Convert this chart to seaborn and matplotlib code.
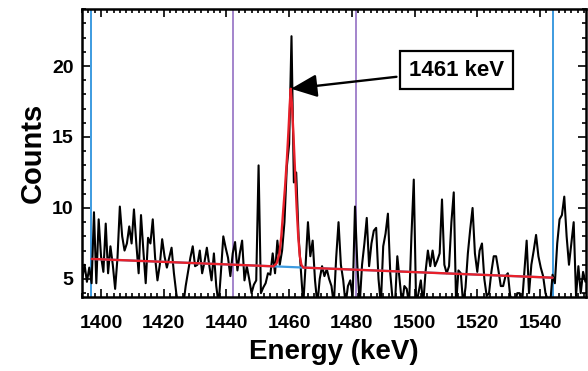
import numpy as np
import pandas as pd
import seaborn as sns
import matplotlib
matplotlib.use('Agg')
import matplotlib.pyplot as plt
from matplotlib.ticker import MultipleLocator

# spectrum (0.75 keV bins)
bin_start = 1392.5
bin_width = 0.75
counts = [5.6, 6.2, 5.0, 6.0, 4.8, 5.8, 4.7, 9.7, 4.7, 9.2,
          6.6, 5.5, 8.9, 5.4, 7.3, 6.0, 4.3, 6.5, 10.1, 8.0,
          7.0, 7.5, 8.7, 7.5, 9.9, 7.5, 5.4, 9.5, 7.0, 4.7,
          7.9, 7.5, 9.2, 6.5, 4.9, 6.0, 7.8, 6.6, 5.8, 6.5,
          7.2, 5.4, 4.0, 3.0, 3.5, 3.2, 4.5, 5.5, 6.5, 7.3,
          5.9, 6.0, 7.0, 5.4, 6.2, 7.2, 6.0, 4.9, 6.8, 4.5,
          3.2, 5.5, 8.0, 7.2, 6.5, 5.2, 6.8, 7.6, 5.6, 6.8,
          7.7, 4.9, 5.9, 5.0, 4.0, 4.6, 4.9, 13.0, 4.0, 4.4,
          4.7, 5.4, 5.3, 6.8, 5.4, 7.7, 6.0, 7.0, 9.0, 12.9,
          14.5, 22.1, 11.8, 12.5, 8.0, 5.6, 3.2, 6.0, 9.0, 6.6,
          7.7, 4.9, 3.2, 5.0, 5.9, 5.2, 5.7, 5.0, 4.5, 3.2,
          6.5, 9.0, 6.0, 4.9, 3.2, 4.5, 4.9, 3.7, 10.1, 6.0,
          3.2, 6.0, 7.5, 9.3, 5.9, 7.5, 8.4, 8.6, 5.0, 3.2,
          7.3, 8.2, 9.6, 5.4, 3.5, 3.2, 6.6, 4.9, 3.2, 4.5,
          4.3, 3.2, 8.0, 12.0, 3.2, 4.0, 4.9, 3.2, 5.5, 7.0,
          5.9, 7.0, 5.9, 6.3, 6.8, 10.6, 6.0, 5.4, 5.9, 9.0,
          11.1, 3.2, 5.6, 5.4, 3.2, 4.4, 6.8, 8.5, 10.0, 6.8,
          5.5, 7.0, 7.5, 5.0, 3.8, 4.0, 5.5, 6.6, 6.6, 5.6,
          4.5, 4.5, 5.2, 5.4, 3.8, 3.5, 3.2, 4.0, 4.0, 3.2,
          5.5, 7.7, 4.0, 6.0, 7.0, 8.1, 6.6, 5.8, 5.2, 4.0,
          3.5, 3.2, 5.3, 4.7, 7.5, 9.2, 9.5, 10.8, 8.0, 6.0,
          7.5, 9.0, 3.8, 5.9, 4.0, 5.5, 4.8, 5.0]
energy = bin_start + bin_width * np.arange(len(counts))

# fitted peak + linear background
fit_energy = [1397.0, 1455.0, 1456.0, 1456.9, 1457.5, 1458.1, 1458.7, 1459.3,
              1459.8, 1460.2, 1460.5, 1460.9, 1461.4, 1461.9, 1462.4, 1462.9,
              1463.4, 1463.9, 1464.5, 1544.0]
fit_counts = [6.41, 5.89, 6.1, 6.8, 8.0, 9.8, 11.5, 13.5,
              15.5, 17.3, 18.4, 17.3, 15.0, 12.5, 10.0, 8.0,
              6.6, 6.0, 5.80, 5.09]
bkg_energy = [1397.0, 1544.0]
bkg_counts = [6.41, 5.09]

# region markers
fit_limits = [1396.8, 1544.1]
peak_limits = [1442.1, 1481.3]

spec = pd.DataFrame({'energy': energy, 'counts': counts})
fit = pd.DataFrame({'energy': fit_energy, 'counts': fit_counts})
bkg = pd.DataFrame({'energy': bkg_energy, 'counts': bkg_counts})

sns.set_theme(style='ticks')
plt.rcParams['font.family'] = ['Liberation Sans', 'DejaVu Sans']
plt.rcParams['font.weight'] = 'bold'
for key in ['text.color', 'axes.labelcolor', 'xtick.color', 'ytick.color',
            'axes.edgecolor']:
    plt.rcParams[key] = 'black'

fig = plt.figure(figsize=(5.88, 3.71), dpi=100)
ax = fig.add_axes([0.1395, 0.1995, 0.857, 0.776])

for e in fit_limits:
    ax.axvline(e, color='#3d9be0', lw=1.4, zorder=1)
for e in peak_limits:
    ax.axvline(e, color='#a384cc', lw=1.4, zorder=1)

sns.lineplot(data=spec, x='energy', y='counts', color='black', lw=1.5,
             estimator=None, ax=ax, zorder=2)
sns.lineplot(data=bkg, x='energy', y='counts', color='#3d9be0', lw=1.6,
             estimator=None, ax=ax, zorder=3)
sns.lineplot(data=fit, x='energy', y='counts', color='#e8202a', lw=1.7,
             estimator=None, ax=ax, zorder=4)

ax.set_xlim(1393.94, 1554.66)
ax.set_ylim(3.73, 24.01)
ax.xaxis.set_major_locator(MultipleLocator(20))
ax.xaxis.set_minor_locator(MultipleLocator(2))
ax.yaxis.set_major_locator(MultipleLocator(5))
ax.yaxis.set_minor_locator(MultipleLocator(1))
ax.tick_params(which='both', direction='in', top=True, right=True, width=1.2,
               labelsize=14, colors='black')
ax.tick_params(which='major', length=5.5)
ax.tick_params(which='minor', length=3)
ax.tick_params(axis='x', which='major', pad=13)
ax.tick_params(axis='y', which='major', pad=6)
for lab in ax.get_xticklabels() + ax.get_yticklabels():
    lab.set_fontweight('bold')
for s in ax.spines.values():
    s.set_linewidth(1.8)
    s.set_color('black')

ax.set_xlabel('Energy (keV)', fontsize=20, fontweight='bold', labelpad=5,
              color='black')
ax.set_ylabel('Counts', fontsize=21, fontweight='bold', labelpad=4,
              color='black')

ax.annotate('1461 keV', xy=(1460.6, 18.4), xycoords='data',
            xytext=(456.5 / 588, 1 - 70 / 371), textcoords='figure fraction',
            ha='center', va='center', fontsize=16, fontweight='bold',
            color='black',
            bbox=dict(boxstyle='square,pad=0.4', fc='white', ec='black', lw=1.6),
            arrowprops=dict(arrowstyle='-|>,head_length=0.8,head_width=0.35',
                            color='black', lw=1.7, mutation_scale=20, shrinkB=0),
            zorder=6)

fig.savefig('out.png', dpi=100)
